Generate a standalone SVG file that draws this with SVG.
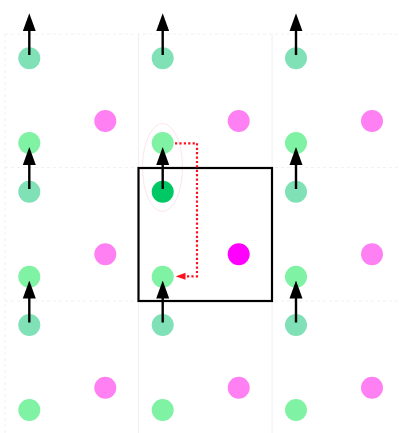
<svg xmlns="http://www.w3.org/2000/svg" width="399" height="433" viewBox="0 0 399 433">
<style>
.grid{stroke:#f0f0f0;stroke-width:1;fill:none}
.dash{stroke-dasharray:3,3}
.teal{fill:#80e0b6}
.green{fill:#80f2a4}
.pink{fill:#ff80f2}
.dkgreen{fill:#00c865}
.magenta{fill:#ff00ff}
.arrow{stroke:#000;stroke-width:2.4;fill:none;marker-end:url(#ah)}
.link{stroke:#ff1020;stroke-width:2.2;stroke-dasharray:2.2,2.2;fill:none;marker-end:url(#rh)}
</style>
<defs>
<marker id="ah" markerUnits="userSpaceOnUse" markerWidth="18" markerHeight="14" viewBox="0 0 18 14" refX="0.5" refY="7" orient="auto"><path d="M0,0.5 L18,7 L0,13.5 Z" fill="#000"/></marker>
<marker id="rh" markerUnits="userSpaceOnUse" markerWidth="10" markerHeight="8" viewBox="0 0 10 8" refX="0.5" refY="4" orient="auto"><path d="M0,0.5 L10,4 L0,7.5 Z" fill="#ff1020"/></marker>
</defs>
<g id="grid">
<line class="grid dash" x1="5" y1="34" x2="5" y2="433"/>
<line class="grid" x1="138.5" y1="34" x2="138.5" y2="433"/>
<line class="grid" x1="272" y1="34" x2="272" y2="433"/>
<line class="grid dash" x1="5" y1="34" x2="399" y2="34"/>
<line class="grid dash" x1="5" y1="167.5" x2="399" y2="167.5"/>
<line class="grid dash" x1="5" y1="301" x2="399" y2="301"/>
</g>
<ellipse id="pair" cx="162.5" cy="167.5" rx="20" ry="44" fill="none" stroke="#fce6ee" stroke-width="1"/>
<rect id="cell" x="138.5" y="168" width="133.5" height="133" fill="none" stroke="#000" stroke-width="2.2"/>
<g id="pinks">
<circle class="pink" cx="105.3" cy="121" r="11"/>
<circle class="pink" cx="238.7" cy="121" r="11"/>
<circle class="pink" cx="372" cy="121" r="11"/>
<circle class="pink" cx="105.3" cy="254.3" r="11"/>
<circle class="magenta" id="center-pink" cx="238.7" cy="254.3" r="11"/>
<circle class="pink" cx="372" cy="254.3" r="11"/>
<circle class="pink" cx="105.3" cy="387.7" r="11"/>
<circle class="pink" cx="238.7" cy="387.7" r="11"/>
<circle class="pink" cx="372" cy="387.7" r="11"/>
</g>
<g id="greens">
<circle class="green" cx="29.3" cy="143" r="11"/>
<circle class="green" cx="162.7" cy="143" r="11"/>
<circle class="green" cx="296" cy="143" r="11"/>
<circle class="green" cx="29.3" cy="276.7" r="11"/>
<circle class="green" cx="162.7" cy="276.7" r="11"/>
<circle class="green" cx="296" cy="276.7" r="11"/>
<circle class="green" cx="29.3" cy="410" r="11"/>
<circle class="green" cx="162.7" cy="410" r="11"/>
<circle class="green" cx="296" cy="410" r="11"/>
</g>
<g id="teals">
<circle class="teal" cx="29.3" cy="58.3" r="11"/>
<circle class="teal" cx="162.7" cy="58.3" r="11"/>
<circle class="teal" cx="296" cy="58.3" r="11"/>
<circle class="teal" cx="29.3" cy="191.7" r="11"/>
<circle class="dkgreen" id="center-teal" cx="162.7" cy="191.7" r="11"/>
<circle class="teal" cx="296" cy="191.7" r="11"/>
<circle class="teal" cx="29.3" cy="325" r="11"/>
<circle class="teal" cx="162.7" cy="325" r="11"/>
<circle class="teal" cx="296" cy="325" r="11"/>
</g>
<g id="connectors">
<line class="arrow" x1="29.3" y1="55" x2="29.3" y2="30.7"/>
<line class="arrow" x1="162.7" y1="55" x2="162.7" y2="30.7"/>
<line class="arrow" x1="296" y1="55" x2="296" y2="30.7"/>
<line class="arrow" x1="29.3" y1="189" x2="29.3" y2="164.5"/>
<line class="arrow" x1="162.7" y1="189" x2="162.7" y2="164.5"/>
<line class="arrow" x1="296" y1="189" x2="296" y2="164.5"/>
<line class="arrow" x1="29.3" y1="322.5" x2="29.3" y2="298"/>
<line class="arrow" x1="162.7" y1="322.5" x2="162.7" y2="298"/>
<line class="arrow" x1="296" y1="322.5" x2="296" y2="298"/>
<path class="link" d="M175,143.3 H197 V276.3 H185"/>
</g>
</svg>
